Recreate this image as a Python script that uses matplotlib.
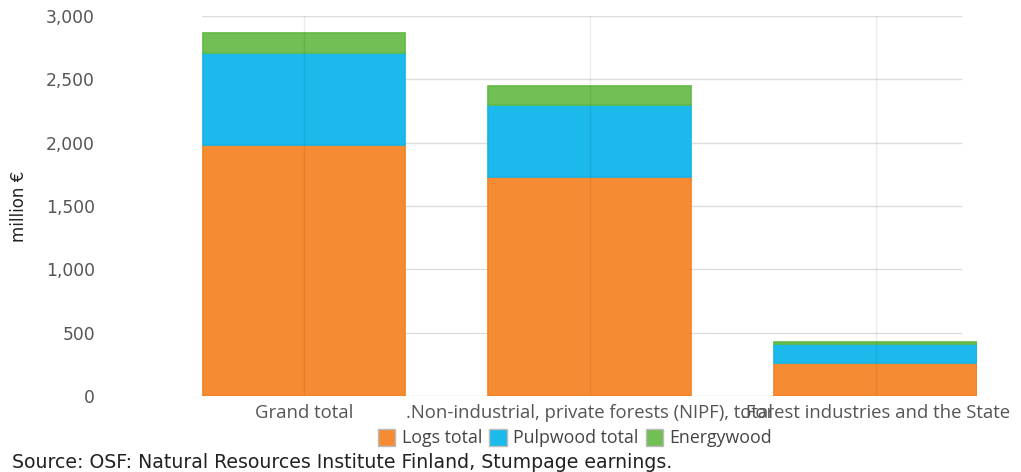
import matplotlib
matplotlib.use("Agg")
import matplotlib.pyplot as plt
from matplotlib.patches import Patch
import numpy as np

categories = ["Grand total", ".Non-industrial, private forests (NIPF), total", ".Forest industries and the State"]
series_names = ["Logs total", "Pulpwood total", "Energywood"]
logs = [1985, 1730, 262]
pulpwood = [722, 568, 152]
energywood = [158, 150, 12]
yticks = [0, 500, 1000, 1500, 2000, 2500, 3000]

colors = ["#F58C33", "#1BB9EC", "#71BF55"]
edges = ["#F5821F", "#12B5EA", "#62BA45"]

fig = plt.figure(figsize=(10.21, 4.72), dpi=100)
ax = fig.add_axes([202/1021, 1-396/472, (977-202)/1021, (396-16)/472])

x = np.arange(len(categories))
w = 0.71
bottom = np.zeros(len(categories))
for vals, c, e in zip([logs, pulpwood, energywood], colors, edges):
    ax.bar(x, vals, w, bottom=bottom, color=c, edgecolor=e, linewidth=1.2, zorder=3)
    bottom += np.array(vals)

ax.set_xlim(-0.357, 2.355)
ax.set_ylim(0, 3000)
for t in yticks:
    ax.axhline(t, xmin=0, xmax=(961-202)/(977-202), color="#dddddd", linewidth=1, zorder=1)
for xi in x:
    ax.axvline(xi, color="#000000", linewidth=1, zorder=4, alpha=0.07)
ax.set_yticks(yticks)
ax.set_yticklabels([f"{t:,}" for t in yticks], color="#555555", fontsize=12.3, family="DejaVu Sans")
ax.set_xticks(x)
ax.set_xticklabels(categories, color="#555555", fontsize=13.3, family="Open Sans")
ax.tick_params(length=0, pad=6)
ax.tick_params(axis="y", pad=77)
for s in ax.spines.values():
    s.set_visible(False)
ax.grid(False)

fig.text(19/1021, 1-206/472, "million €", rotation=90, ha="center", va="center",
         fontsize=12, family="DejaVu Sans", color="#222222")

handles = [Patch(facecolor=c, edgecolor="#bbbbbb", linewidth=1) for c in colors]
fig.legend(handles, series_names, loc="center", bbox_to_anchor=(575/1021, 1-438/472),
           ncol=3, frameon=False, handlelength=1.0, handleheight=1.1,
           handletextpad=0.35, columnspacing=0.4, prop={"family": "Open Sans", "size": 12.8})
for t in fig.legends[0].get_texts():
    t.set_color("#444444")

fig.text(12/1021, 1-463/472, "Source: OSF: Natural Resources Institute Finland, Stumpage earnings.",
         ha="left", va="center", fontsize=13.6, family="DejaVu Sans", color="#222222")

fig.savefig("out.png", dpi=100)
